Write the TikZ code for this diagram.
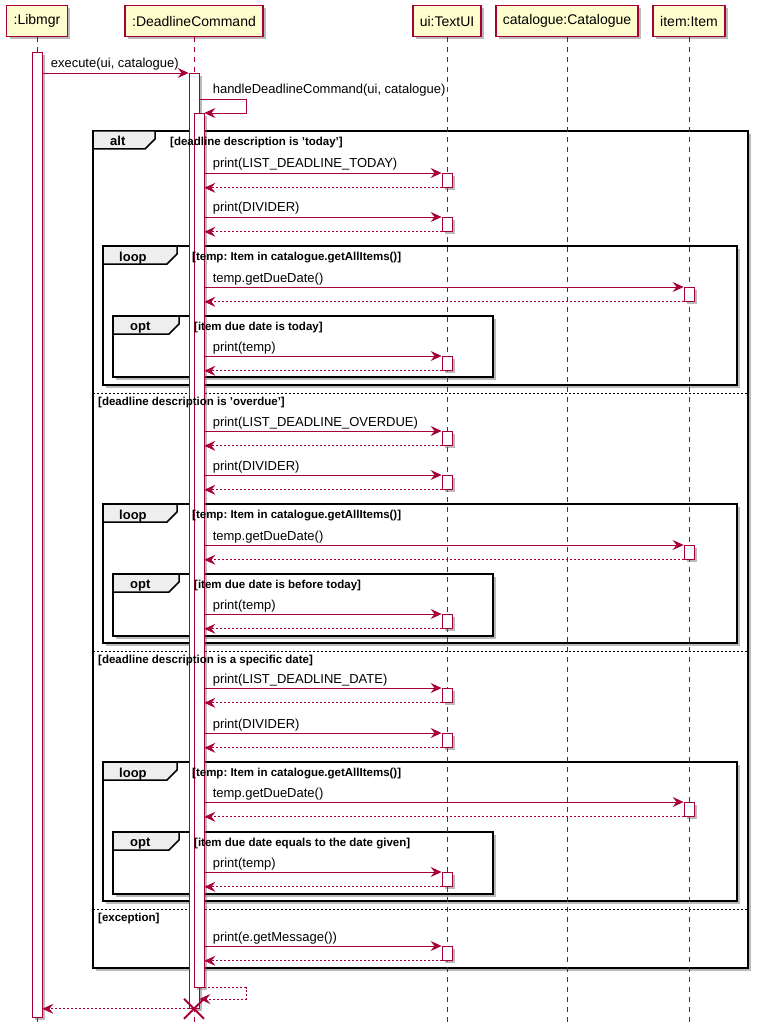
\documentclass[tikz,border=0pt]{standalone}
\usepackage{fontspec}
\setmainfont{Liberation Sans}
\usetikzlibrary{arrows.meta,shadows,shapes.misc}
\frenchspacing

\definecolor{plred}{HTML}{A80036}
\definecolor{partfill}{HTML}{FEFECE}
\definecolor{tabfill}{HTML}{EEEEEE}

\newcommand{\msgfont}{\fontsize{13}{15}\selectfont}
\newcommand{\partfont}{\fontsize{14}{16}\selectfont}
\newcommand{\condfont}{\fontsize{11.5}{13}\selectfont\bfseries}
\newcommand{\tabfont}{\fontsize{13}{15}\selectfont\bfseries}

\tikzset{
  pshadow/.style={drop shadow={shadow xshift=3pt, shadow yshift=-3pt, opacity=0.45, fill=black!60}},
  part/.style={draw=plred, fill=partfill, line width=1.5pt, font=\partfont,
    inner xsep=7pt, inner ysep=0pt, minimum height=31pt, pshadow},
  life/.style={draw=plred, line width=0.8pt, dash pattern=on 5pt off 5pt},
  act/.style={draw=plred, fill=white, line width=0.8pt, minimum width=10pt,
    inner sep=0pt, anchor=north, pshadow},
  msg/.style={draw=plred, line width=0.8pt, -{Stealth[length=11pt, width=10pt, inset=4pt]}},
  ret/.style={msg, dash pattern=on 2pt off 2pt},
  lbl/.style={anchor=base west, inner sep=0pt, font=\msgfont, xshift=8pt, yshift=5pt},
  fragment/.style={draw=black, line width=1.5pt, fill=white,
    drop shadow={shadow xshift=3pt, shadow yshift=-3pt, opacity=0.45, fill=black!60}},
  tab/.style={draw=black, line width=1.5pt, fill=tabfill},
  tablbl/.style={font=\tabfont, anchor=base west, inner sep=0pt},
  cond/.style={font=\condfont, anchor=base west, inner sep=0pt},
  divider/.style={draw=black, line width=0.6pt, dash pattern=on 2pt off 2pt},
  kill/.style={cross out, draw=plred, line width=2pt, minimum size=18pt, inner sep=0pt}
}

\begin{document}
\begin{tikzpicture}[x=1pt, y=-1pt]
\useasboundingbox (0,0) rectangle (759,1032);
\fill[white] (0,0) rectangle (759,1032);

% participants
\node[part] (lib) at (37,21) {:Libmgr};
\node[part] (dc) at (194,21) {:DeadlineCommand};
\node[part] (ui) at (447,21) {ui:TextUI};
\node[part] (cat) at (567,21) {catalogue:Catalogue};
\node[part] (item) at (689,21) {item:Item};
\coordinate (bottom) at (0,1027);

% alt fragment
\draw[fragment] (93,131) rectangle (748,968);
\draw[tab] (93,131) -- (155,131) -- (155,139) -- (145,149) -- (93,149) -- cycle;
\node[tablbl] (altlbl) at (110,146) {alt};

% today
\draw[fragment] (103,246) rectangle (737,385);
\draw[tab] (103,246) -- (177,246) -- (177,254) -- (167,264) -- (103,264) -- cycle;
\node[tablbl] (loopAlbl) at (119,261) {loop};
\draw[fragment] (113,316) rectangle (493,377);
\draw[tab] (113,316) -- (179,316) -- (179,324) -- (169,334) -- (113,334) -- cycle;
\node[tablbl] (optAlbl) at (130,330) {opt};
\draw[divider] (93,393) -- (748,393);

% overdue
\draw[fragment] (103,504) rectangle (737,643);
\draw[tab] (103,504) -- (177,504) -- (177,512) -- (167,522) -- (103,522) -- cycle;
\node[tablbl] (loopBlbl) at (119,519) {loop};
\draw[fragment] (113,574) rectangle (493,636);
\draw[tab] (113,574) -- (179,574) -- (179,582) -- (169,592) -- (113,592) -- cycle;
\node[tablbl] (optBlbl) at (130,588) {opt};
\draw[divider] (93,651) -- (748,651);

% specific date
\draw[fragment] (103,762) rectangle (737,901);
\draw[tab] (103,762) -- (177,762) -- (177,770) -- (167,780) -- (103,780) -- cycle;
\node[tablbl] (loopClbl) at (119,777) {loop};
\draw[fragment] (113,832) rectangle (493,894);
\draw[tab] (113,832) -- (179,832) -- (179,840) -- (169,850) -- (113,850) -- cycle;
\node[tablbl] (optClbl) at (130,846) {opt};
\draw[divider] (93,909) -- (748,909);

% lifelines
\draw[life] (lib.south) -- (lib.south |- bottom);
\draw[life] (dc.south) -- (dc.south |- bottom);
\draw[life] (ui.south) -- (ui.south |- bottom);
\draw[life] (cat.south) -- (cat.south |- bottom);
\draw[life] (item.south) -- (item.south |- bottom);

% activations
\node[act, minimum height=965pt] (lib1) at (37,52) {};
\node[act, minimum height=935pt] (dc1) at (194,73) {};
\node[act, minimum height=874pt] (dc2) at (199,113) {};
\node[act, minimum height=14pt] (uiA) at (447,173) {};
\node[act, minimum height=14pt] (uiB) at (447,217) {};
\node[act, minimum height=14pt] (itA) at (689,287) {};
\node[act, minimum height=14pt] (uiC) at (447,356) {};
\node[act, minimum height=14pt] (uiD) at (447,431) {};
\node[act, minimum height=14pt] (uiE) at (447,475) {};
\node[act, minimum height=14pt] (itB) at (689,545) {};
\node[act, minimum height=14pt] (uiF) at (447,614) {};
\node[act, minimum height=14pt] (uiG) at (447,688) {};
\node[act, minimum height=14pt] (uiH) at (447,733) {};
\node[act, minimum height=14pt] (itC) at (689,802) {};
\node[act, minimum height=14pt] (uiI) at (447,872) {};
\node[act, minimum height=14pt] (uiJ) at (447,946) {};

% calls
\draw[msg] (lib1.east |- dc1.north) -- node[lbl, pos=0] (mExec) {execute(ui, catalogue)} (dc1.north west);
\coordinate (selfgo) at (246,99);
\draw[msg] (dc1.east |- selfgo) -- node[lbl, pos=0, xshift=5pt] (mHandle) {handleDeadlineCommand(ui, catalogue)} (selfgo) |- (dc2.north east);

\draw[msg] (dc2.east |- uiA.north) -- node[lbl, pos=0] (mA) {print(LIST\_DEADLINE\_TODAY)} (uiA.north west);
\draw[ret] (uiA.south west) -- (dc2.east |- uiA.south);
\draw[msg] (dc2.east |- uiB.north) -- node[lbl, pos=0] (mB) {print(DIVIDER)} (uiB.north west);
\draw[ret] (uiB.south west) -- (dc2.east |- uiB.south);
\draw[msg] (dc2.east |- itA.north) -- node[lbl, pos=0] (mC) {temp.getDueDate()} (itA.north west);
\draw[ret] (itA.south west) -- (dc2.east |- itA.south);
\draw[msg] (dc2.east |- uiC.north) -- node[lbl, pos=0] (mD) {print(temp)} (uiC.north west);
\draw[ret] (uiC.south west) -- (dc2.east |- uiC.south);

\draw[msg] (dc2.east |- uiD.north) -- node[lbl, pos=0] (mE) {print(LIST\_DEADLINE\_OVERDUE)} (uiD.north west);
\draw[ret] (uiD.south west) -- (dc2.east |- uiD.south);
\draw[msg] (dc2.east |- uiE.north) -- node[lbl, pos=0] (mF) {print(DIVIDER)} (uiE.north west);
\draw[ret] (uiE.south west) -- (dc2.east |- uiE.south);
\draw[msg] (dc2.east |- itB.north) -- node[lbl, pos=0] (mG) {temp.getDueDate()} (itB.north west);
\draw[ret] (itB.south west) -- (dc2.east |- itB.south);
\draw[msg] (dc2.east |- uiF.north) -- node[lbl, pos=0] (mH) {print(temp)} (uiF.north west);
\draw[ret] (uiF.south west) -- (dc2.east |- uiF.south);

\draw[msg] (dc2.east |- uiG.north) -- node[lbl, pos=0] (mI) {print(LIST\_DEADLINE\_DATE)} (uiG.north west);
\draw[ret] (uiG.south west) -- (dc2.east |- uiG.south);
\draw[msg] (dc2.east |- uiH.north) -- node[lbl, pos=0] (mJ) {print(DIVIDER)} (uiH.north west);
\draw[ret] (uiH.south west) -- (dc2.east |- uiH.south);
\draw[msg] (dc2.east |- itC.north) -- node[lbl, pos=0] (mK) {temp.getDueDate()} (itC.north west);
\draw[ret] (itC.south west) -- (dc2.east |- itC.south);
\draw[msg] (dc2.east |- uiI.north) -- node[lbl, pos=0] (mL) {print(temp)} (uiI.north west);
\draw[ret] (uiI.south west) -- (dc2.east |- uiI.south);

\draw[msg] (dc2.east |- uiJ.north) -- node[lbl, pos=0] (mM) {print(e.getMessage())} (uiJ.north west);
\draw[ret] (uiJ.south west) -- (dc2.east |- uiJ.south);

% returns at the end
\coordinate (selfback) at (246,999);
\draw[ret] (dc2.south east) -| (selfback) -- (dc1.east |- selfback);
\node[kill] (dcEnd) at (dc1.south) {};
\draw[ret] (dc1.south west) -- (lib1.east |- dc1.south west);

% guards
\node[cond] (gA) at (170,146) {[deadline description is 'today']};
\node[cond] (gB) at (192,260) {[temp: Item in catalogue.getAllItems()]};
\node[cond] (gC) at (194,330) {[item due date is today]};
\node[cond] (gD) at (98,405) {[deadline description is 'overdue']};
\node[cond] (gE) at (192,518) {[temp: Item in catalogue.getAllItems()]};
\node[cond] (gF) at (194,588) {[item due date is before today]};
\node[cond] (gG) at (98,663) {[deadline description is a specific date]};
\node[cond] (gH) at (192,776) {[temp: Item in catalogue.getAllItems()]};
\node[cond] (gI) at (194,846) {[item due date equals to the date given]};
\node[cond] (gJ) at (98,921) {[exception]};
\end{tikzpicture}
\end{document}
